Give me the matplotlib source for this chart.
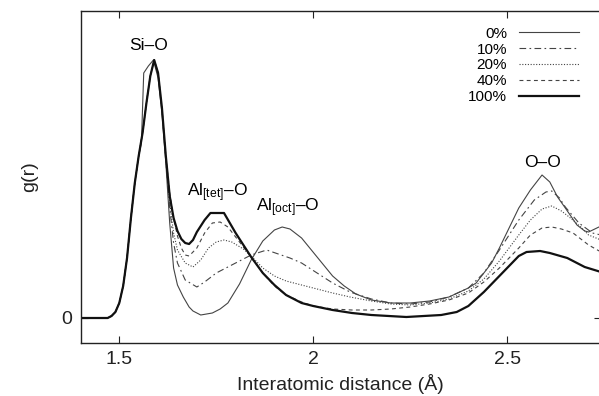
import matplotlib
matplotlib.use("Agg")
import matplotlib.pyplot as plt

plt.rcParams["font.family"] = ["Liberation Sans", "DejaVu Sans"]
plt.rcParams["mathtext.fontset"] = "custom"
plt.rcParams["mathtext.rm"] = "Liberation Sans"
plt.rcParams["mathtext.it"] = "Liberation Sans"

# Al content labels
labels = ["0%", "10%", "20%", "40%", "100%"]

# 0 % Al
r_0 = [1.40, 1.47, 1.48, 1.49, 1.50, 1.51, 1.52, 1.53, 1.54, 1.55, 1.557, 1.563,
       1.575, 1.588, 1.60, 1.61, 1.62, 1.63, 1.64, 1.65, 1.665, 1.68, 1.69, 1.71,
       1.74, 1.76, 1.78, 1.81, 1.84, 1.87, 1.90, 1.92, 1.94, 1.97, 2.01, 2.05,
       2.08, 2.11, 2.15, 2.20, 2.25, 2.30, 2.35, 2.40, 2.42, 2.46, 2.48, 2.50,
       2.53, 2.56, 2.59, 2.61, 2.63, 2.65, 2.68, 2.70, 2.71, 2.742]
g_0 = [0.0, 0.0, 0.02, 0.06, 0.15, 0.32, 0.60, 1.00, 1.35, 1.62, 1.75, 2.45,
       2.52, 2.58, 2.40, 2.05, 1.55, 0.95, 0.50, 0.33, 0.21, 0.11, 0.07, 0.03,
       0.05, 0.09, 0.15, 0.34, 0.58, 0.77, 0.88, 0.91, 0.89, 0.80, 0.61, 0.42,
       0.32, 0.24, 0.18, 0.15, 0.15, 0.17, 0.21, 0.30, 0.35, 0.55, 0.70, 0.86,
       1.10, 1.28, 1.43, 1.36, 1.21, 1.10, 0.93, 0.87, 0.86, 0.92]

# 10 % Al
r_10 = [1.40, 1.47, 1.48, 1.49, 1.50, 1.51, 1.52, 1.53, 1.54, 1.55, 1.56, 1.57,
        1.58, 1.59, 1.60, 1.61, 1.62, 1.63, 1.64, 1.65, 1.67, 1.70, 1.72, 1.75,
        1.78, 1.81, 1.84, 1.88, 1.91, 1.94, 1.97, 2.01, 2.05, 2.095, 2.15, 2.20,
        2.25, 2.30, 2.35, 2.40, 2.44, 2.48, 2.53, 2.57, 2.60, 2.615, 2.635, 2.65,
        2.685, 2.72, 2.742]
g_10 = [0.0, 0.0, 0.02, 0.06, 0.15, 0.32, 0.60, 1.00, 1.35, 1.62, 1.85, 2.15,
        2.42, 2.58, 2.45, 2.08, 1.58, 1.10, 0.75, 0.55, 0.38, 0.31, 0.36, 0.45,
        0.51, 0.57, 0.63, 0.68, 0.64, 0.60, 0.55, 0.45, 0.35, 0.26, 0.19, 0.15,
        0.14, 0.16, 0.21, 0.30, 0.45, 0.68, 0.98, 1.18, 1.26, 1.27, 1.20, 1.11,
        0.95, 0.85, 0.83]

# 20 % Al
r_20 = [1.40, 1.47, 1.48, 1.49, 1.50, 1.51, 1.52, 1.53, 1.54, 1.55, 1.56, 1.57,
        1.58, 1.59, 1.60, 1.61, 1.62, 1.63, 1.64, 1.65, 1.67, 1.69, 1.71, 1.73,
        1.75, 1.77, 1.79, 1.82, 1.84, 1.87, 1.90, 1.93, 1.97, 2.01, 2.05, 2.095,
        2.15, 2.20, 2.25, 2.30, 2.35, 2.40, 2.44, 2.48, 2.53, 2.56, 2.59, 2.615,
        2.64, 2.66, 2.69, 2.71, 2.742]
g_20 = [0.0, 0.0, 0.02, 0.06, 0.15, 0.32, 0.60, 1.00, 1.35, 1.62, 1.85, 2.15,
        2.42, 2.58, 2.45, 2.08, 1.60, 1.15, 0.85, 0.68, 0.55, 0.51, 0.58, 0.70,
        0.76, 0.78, 0.76, 0.69, 0.62, 0.50, 0.42, 0.37, 0.33, 0.29, 0.25, 0.21,
        0.17, 0.14, 0.13, 0.15, 0.19, 0.27, 0.39, 0.57, 0.83, 0.98, 1.09, 1.12,
        1.07, 1.01, 0.91, 0.83, 0.78]

# 40 % Al
r_40 = [1.40, 1.47, 1.48, 1.49, 1.50, 1.51, 1.52, 1.53, 1.54, 1.55, 1.56, 1.57,
        1.58, 1.59, 1.60, 1.61, 1.62, 1.63, 1.64, 1.65, 1.66, 1.67, 1.68, 1.70,
        1.72, 1.74, 1.76, 1.78, 1.81, 1.84, 1.87, 1.90, 1.93, 1.97, 2.00, 2.05,
        2.10, 2.15, 2.20, 2.25, 2.30, 2.35, 2.40, 2.44, 2.48, 2.53, 2.56, 2.59,
        2.615, 2.64, 2.67, 2.69, 2.71, 2.742]
g_40 = [0.0, 0.0, 0.02, 0.06, 0.15, 0.32, 0.60, 1.00, 1.35, 1.62, 1.85, 2.15,
        2.42, 2.58, 2.45, 2.10, 1.62, 1.25, 1.00, 0.82, 0.70, 0.63, 0.62, 0.70,
        0.85, 0.95, 0.96, 0.91, 0.76, 0.61, 0.45, 0.32, 0.23, 0.16, 0.12, 0.09,
        0.08, 0.08, 0.09, 0.11, 0.14, 0.18, 0.25, 0.36, 0.50, 0.70, 0.83, 0.90,
        0.91, 0.89, 0.85, 0.79, 0.73, 0.66]

# 100 % Al
r_100 = [1.40, 1.47, 1.48, 1.49, 1.50, 1.51, 1.52, 1.53, 1.54, 1.55, 1.56, 1.57,
         1.58, 1.59, 1.60, 1.61, 1.62, 1.63, 1.64, 1.65, 1.66, 1.67, 1.68, 1.69,
         1.70, 1.72, 1.735, 1.77, 1.80, 1.84, 1.87, 1.90, 1.93, 1.97, 2.00, 2.05,
         2.10, 2.15, 2.24, 2.33, 2.37, 2.40, 2.44, 2.48, 2.53, 2.55, 2.585, 2.61,
         2.655, 2.70, 2.742]
g_100 = [0.0, 0.0, 0.02, 0.06, 0.15, 0.32, 0.60, 1.00, 1.35, 1.62, 1.85, 2.15,
         2.42, 2.58, 2.45, 2.10, 1.62, 1.22, 1.00, 0.87, 0.79, 0.75, 0.74, 0.78,
         0.86, 0.98, 1.05, 1.05, 0.85, 0.61, 0.45, 0.33, 0.23, 0.15, 0.12, 0.08,
         0.05, 0.03, 0.01, 0.03, 0.06, 0.12, 0.26, 0.42, 0.62, 0.66, 0.67, 0.65,
         0.60, 0.51, 0.46]

fig = plt.figure(figsize=(5.99, 3.96), dpi=100)
ax = fig.add_axes([80.5 / 599, 53 / 396, 520.5 / 599, 332 / 396])

ax.plot(r_0, g_0, color="#444444", lw=0.8, ls="-", label=labels[0])
ax.plot(r_10, g_10, color="#444444", lw=0.8, ls=(0, (6, 3, 1.5, 3)), label=labels[1])
ax.plot(r_20, g_20, color="#444444", lw=0.8, ls=(0, (1, 1.5)), label=labels[2])
ax.plot(r_40, g_40, color="#444444", lw=0.8, ls=(0, (3.5, 3)), label=labels[3])
ax.plot(r_100, g_100, color="#111111", lw=1.6, ls="-", label=labels[4])

ax.set_xlim(1.4, 2.742)
ax.set_ylim(-0.25, 3.07)
ax.set_xticks([1.5, 2.0, 2.5])
ax.set_xticklabels(["1.5", "2", "2.5"])
ax.set_yticks([0])
ax.tick_params(direction="in", length=5, width=0.8, top=True, right=True,
               labelsize=14, colors="#222222", pad=6)
for s in ax.spines.values():
    s.set_linewidth(1.0)
    s.set_color("#222222")

ax.set_xlabel("Interatomic distance (Å)", fontsize=14, labelpad=4, color="#222222")
ax.set_ylabel("g(r)", fontsize=14, labelpad=17, color="#222222")

ax.text(1.575, 2.65, "Si–O", fontsize=12.5, ha="center", va="bottom")
ax.text(1.752, 1.14, r"Al$_{\mathrm{[tet]}}$–O", fontsize=12.5, ha="center", va="bottom")
ax.text(1.933, 0.99, r"Al$_{\mathrm{[oct]}}$–O", fontsize=12.5, ha="center", va="bottom")
ax.text(2.59, 1.48, "O–O", fontsize=12.5, ha="center", va="bottom")

leg = ax.legend(loc="upper right", bbox_to_anchor=(0.978, 0.985), frameon=False,
                markerfirst=False, fontsize=11, handlelength=3.9,
                handletextpad=0.8, labelspacing=0.12, borderpad=0.2)

fig.savefig("out.png", dpi=100)
